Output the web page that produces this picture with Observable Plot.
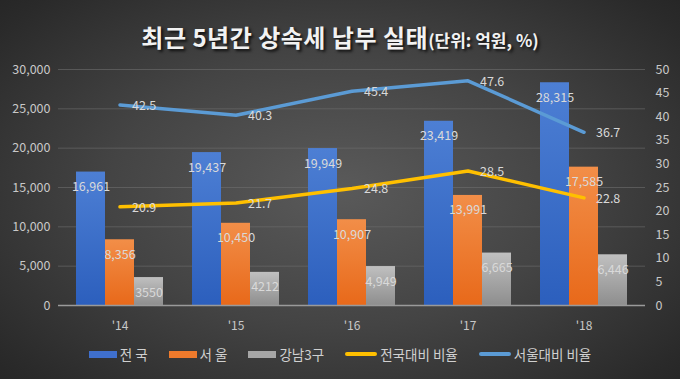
<!DOCTYPE html>
<html><head><meta charset="utf-8">
<script src="https://cdn.jsdelivr.net/npm/d3@7"></script>
<script src="https://cdn.jsdelivr.net/npm/@observablehq/plot@0.6"></script>
<style>
html,body{margin:0;padding:0;}
body{width:680px;height:379px;overflow:hidden;position:relative;
background:radial-gradient(ellipse 75% 80% at 50% 50%, #5a5a5a 0%, #444 45%, #2a2a2a 85%, #222 100%);
font-family:"Noto Sans CJK KR","Noto Sans",sans-serif;color:#d9d9d9;}
#title{position:absolute;left:0;width:680px;top:19px;text-align:center;color:#f2f2f2;
text-shadow:2px 2px 3px rgba(0,0,0,0.8);white-space:nowrap;}
#title .main{font-size:24px;font-weight:bold;letter-spacing:0.5px;}
#title .unit{font-size:17px;font-weight:bold;}
#chart{position:absolute;left:0;top:60px;}
#legend{position:absolute;left:0;width:680px;top:344px;display:flex;justify-content:center;align-items:center;gap:21px;font-size:13.5px;color:#d0d0d0;}
.item{display:flex;align-items:center;gap:3px;}
.sw{display:inline-block;width:28px;height:7px;}
.ln{display:inline-block;width:32px;height:4px;border-radius:2px;}
</style></head>
<body>
<div id="title"><span class="main">최근 5년간 상속세 납부 실태</span><span class="unit">(단위: 억원, %)</span></div>
<div id="chart"></div>
<div id="legend"></div>
<script>
const years = ["'14", "'15", "'16", "'17", "'18"];
const national = [16961, 19437, 19949, 23419, 28315];
const seoul = [8356, 10450, 10907, 13991, 17585];
const gangnam = [3550, 4212, 4949, 6665, 6446];
const gangnamLabels = ["3550", "4212", "4,949", "6,665", "6,446"];
const nationalRatio = [20.9, 21.7, 24.8, 28.5, 22.8];
const seoulRatio = [42.5, 40.3, 45.4, 47.6, 36.7];
const seriesNames = ["전 국", "서 울", "강남3구", "전국대비 비율", "서울대비 비율"];
const leftTicks = [0, 5000, 10000, 15000, 20000, 25000, 30000];
const rightTicks = [0, 5, 10, 15, 20, 25, 30, 35, 40, 45, 50];

const ratioFactor = 30000 / 50;
const fmt = d3.format(",");

// x slot keys: 3 bars per year plus a gap slot between years
const keys = [];
years.forEach((y, i) => {
  keys.push(`${i}-0`, `${i}-1`, `${i}-2`);
  if (i < years.length - 1) keys.push(`${i}-g`);
});

const barSets = [
  {vals: national, labels: national.map(fmt), slot: 0, fill: "url(#gBlue)"},
  {vals: seoul, labels: seoul.map(fmt), slot: 1, fill: "url(#gOrange)"},
  {vals: gangnam, labels: gangnamLabels, slot: 2, fill: "url(#gGray)"}
];
const barRows = barSets.map(s => s.vals.map((v, i) => ({key: `${i}-${s.slot}`, value: v, label: s.labels[i]})));
const lineRows = (arr) => arr.map((v, i) => ({key: `${i}-1`, y: v * ratioFactor, label: v.toFixed(1)}));
const natRows = lineRows(nationalRatio);
const seoulRows = lineRows(seoulRatio);

const labelColor = "#d9d9d9";
const plot = Plot.plot({
  width: 680,
  height: 280,
  marginTop: 9,
  marginBottom: 35,
  marginLeft: 58,
  marginRight: 35,
  style: {background: "transparent", fontFamily: '"Noto Sans CJK KR", sans-serif', overflow: "visible"},
  x: {type: "band", domain: keys, paddingInner: 0, paddingOuter: 0.5},
  y: {domain: [0, 30000]},
  marks: [
    Plot.ruleY(leftTicks.filter(d => d > 0), {stroke: "#6e6e6e", strokeOpacity: 0.6, strokeWidth: 1}),
    ...barSets.map((s, j) => Plot.barY(barRows[j], {x: "key", y: "value", fill: s.fill, inset: 0})),
    Plot.ruleY([0], {stroke: "#9a9a9a", strokeWidth: 1.5}),
    ...barRows.map(rows => Plot.text(rows, {x: "key", y: "value", text: "label", dy: 15, fill: labelColor, fontSize: 12.5})),
    Plot.line(natRows, {x: "key", y: "y", stroke: "#ffc000", strokeWidth: 3.5}),
    Plot.line(seoulRows, {x: "key", y: "y", stroke: "#5b9bd5", strokeWidth: 3.5}),
    Plot.text(natRows, {x: "key", y: "y", text: "label", dx: 12, dy: 1, textAnchor: "start", fill: labelColor, fontSize: 12.5}),
    Plot.text(seoulRows, {x: "key", y: "y", text: "label", dx: 12, dy: 1, textAnchor: "start", fill: labelColor, fontSize: 12.5}),
    Plot.axisY({anchor: "left", ticks: leftTicks, tickFormat: fmt, tickSize: 0, tickPadding: 8, fontSize: 12.5, color: "#c8c8c8", label: null}),
    Plot.axisY({anchor: "right", ticks: rightTicks.map(d => d * ratioFactor), tickFormat: d => String(Math.round(d / ratioFactor)), tickSize: 0, tickPadding: 10, fontSize: 12.5, color: "#c8c8c8", label: null}),
    Plot.axisX({ticks: years.map((y, i) => `${i}-1`), tickFormat: k => years[+k.split("-")[0]], tickSize: 0, tickPadding: 16, fontSize: 12, color: "#c8c8c8", label: null})
  ]
});

const svg = d3.select(plot);
const defs = svg.insert("defs", ":first-child");
const grads = [["gBlue", "#4d7fd4", "#2c5fbd"], ["gOrange", "#f28e48", "#e8691a"], ["gGray", "#c0c0c0", "#8e8e8e"]];
grads.forEach(([id, top, bot]) => {
  const g = defs.append("linearGradient").attr("id", id).attr("x1", 0).attr("y1", 0).attr("x2", 0).attr("y2", 1);
  g.append("stop").attr("offset", "0%").attr("stop-color", top);
  g.append("stop").attr("offset", "100%").attr("stop-color", bot);
});
document.getElementById("chart").appendChild(plot);

const legendColors = ["#3f6fcc", "#ee7a2c", "#a6a6a6", "#ffc000", "#5b9bd5"];
const legend = document.getElementById("legend");
seriesNames.forEach((name, i) => {
  const item = document.createElement("div");
  item.className = "item";
  const sw = document.createElement("span");
  sw.className = i < 3 ? "sw" : "ln";
  sw.style.background = legendColors[i];
  const t = document.createElement("span");
  t.textContent = name;
  item.appendChild(sw); item.appendChild(t);
  legend.appendChild(item);
});
</script>
</body></html>
